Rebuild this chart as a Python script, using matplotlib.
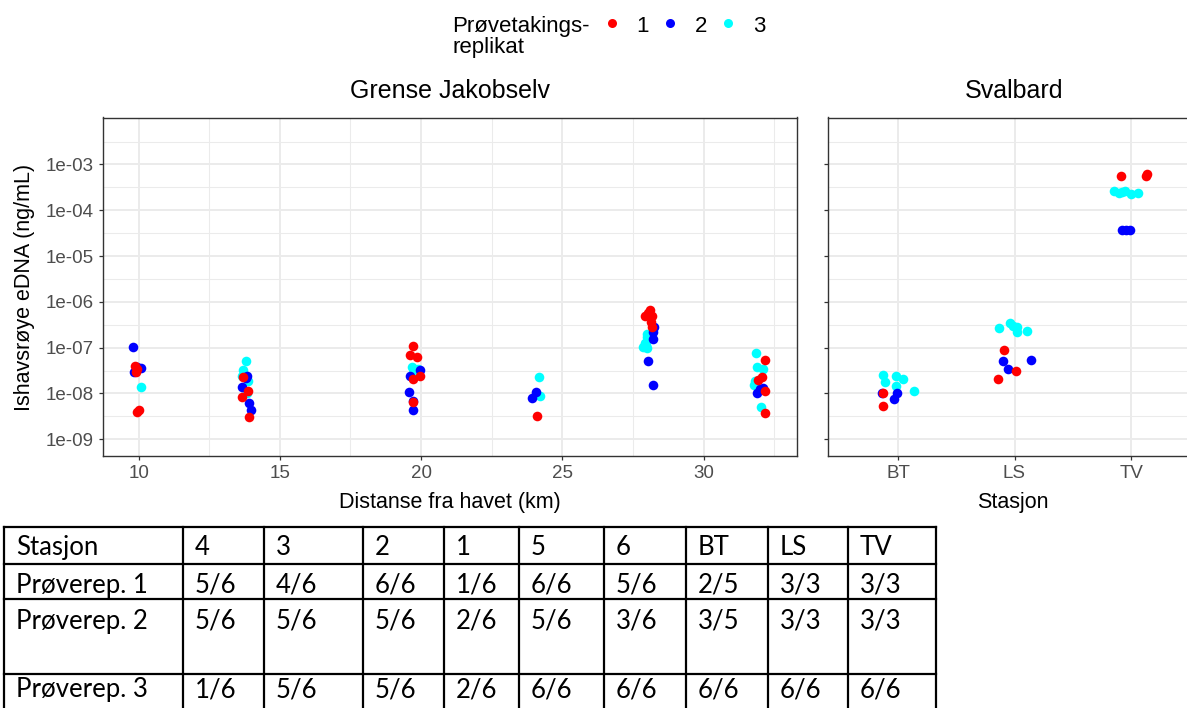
import matplotlib
matplotlib.use("Agg")
import matplotlib.pyplot as plt
from matplotlib.lines import Line2D
from matplotlib.ticker import FixedLocator, NullFormatter

# ---------------- data ----------------
replicates = ["1", "2", "3"]
rep_colors = ["#FF0000", "#0000FF", "#00FFFF"]

# Grense Jakobselv: distance from sea (km, jittered) and eDNA (ng/mL)
gj_km_r1 = [9.88, 9.95, 9.90, 9.94, 10.03,
            13.71, 13.87, 13.65, 13.92,
            19.72, 19.60, 19.86, 19.73, 19.96, 19.73,
            24.12,
            28.11, 27.93, 28.17, 28.13, 28.17, 28.05,
            32.19, 32.08, 31.94, 32.19, 32.17]
gj_val_r1 = [4.0e-8, 3.4e-8, 2.9e-8, 3.9e-9, 4.4e-9,
             2.3e-8, 1.12e-8, 8.2e-9, 3.1e-9,
             1.1e-7, 6.8e-8, 6.2e-8, 2.1e-8, 2.45e-8, 6.6e-9,
             3.3e-9,
             6.5e-7, 5.0e-7, 4.8e-7, 3.7e-7, 2.9e-7, 5.6e-7,
             5.4e-8, 2.24e-8, 1.96e-8, 1.12e-8, 3.7e-9]

gj_km_r2 = [9.81, 10.08, 9.82, 9.90, 9.93,
            13.84, 13.65, 13.91, 13.97, 13.80,
            19.98, 19.61, 19.59, 19.73, 19.72,
            24.08, 23.94,
            28.25, 28.22, 28.04, 28.21, 28.20,
            32.00, 31.88, 32.10]
gj_val_r2 = [1.03e-7, 3.6e-8, 2.9e-8, 3.3e-8, 3.8e-8,
             2.45e-8, 1.4e-8, 6.2e-9, 4.4e-9, 2.2e-8,
             3.2e-8, 2.45e-8, 1.1e-8, 4.4e-9, 6.8e-9,
             1.07e-8, 7.9e-9,
             2.8e-7, 1.56e-7, 5.2e-8, 1.55e-8, 2.2e-7,
             1.23e-8, 1.0e-8, 1.3e-8]

gj_km_r3 = [10.08,
            13.79, 13.71, 13.65, 13.87, 13.83,
            19.67, 19.75, 19.85, 19.70, 19.90,
            24.18, 24.21,
            27.99, 27.93, 27.99, 27.87, 27.95, 28.00,
            31.85, 31.88, 32.12, 31.82, 31.80, 32.04]
gj_val_r3 = [1.4e-8,
             5.0e-8, 3.2e-8, 2.35e-8, 1.9e-8, 1.0e-8,
             3.7e-8, 3.3e-8, 3.0e-8, 2.8e-8, 3.5e-8,
             2.3e-8, 8.9e-9,
             2.0e-7, 1.26e-7, 9.8e-8, 1.02e-7, 1.15e-7, 1.7e-7,
             7.6e-8, 3.7e-8, 3.4e-8, 1.9e-8, 1.55e-8, 5.0e-9]

# Svalbard: station, horizontal jitter, eDNA (ng/mL)
sv_stations = ["BT", "LS", "TV"]
sv_st_r1 = ["BT", "BT", "LS", "LS", "LS", "TV", "TV", "TV"]
sv_jit_r1 = [-0.13, -0.13, -0.09, 0.01, -0.14, -0.09, 0.14, 0.13]
sv_val_r1 = [1.0e-8, 5.4e-9, 8.9e-8, 3.1e-8, 2.1e-8, 5.6e-4, 6.2e-4, 5.5e-4]

sv_st_r2 = ["BT", "BT", "BT", "LS", "LS", "LS", "TV", "TV", "TV"]
sv_jit_r2 = [-0.14, -0.01, -0.03, -0.10, 0.14, -0.06, -0.08, -0.04, -0.01]
sv_val_r2 = [1.05e-8, 1.0e-8, 7.6e-9, 5.2e-8, 5.4e-8, 3.4e-8, 3.7e-5, 3.7e-5, 3.7e-5]

sv_st_r3 = ["BT"] * 6 + ["LS"] * 6 + ["TV"] * 6
sv_jit_r3 = [-0.125, -0.02, 0.04, -0.11, -0.02, 0.14,
             -0.13, -0.04, 0.02, 0.02, 0.11, -0.01,
             -0.15, -0.10, -0.05, 0.0, 0.06, -0.08]
sv_val_r3 = [2.5e-8, 2.35e-8, 2.05e-8, 1.82e-8, 1.49e-8, 1.15e-8,
             2.75e-7, 3.4e-7, 2.9e-7, 2.25e-7, 2.3e-7, 2.95e-7,
             2.7e-4, 2.35e-4, 2.7e-4, 2.3e-4, 2.35e-4, 2.45e-4]

y_breaks = [1e-9, 1e-8, 1e-7, 1e-6, 1e-5, 1e-4, 1e-3]
y_labels = ["1e-09", "1e-08", "1e-07", "1e-06", "1e-05", "1e-04", "1e-03"]
y_minor = [10 ** (-9.5 + k) for k in range(8)]
x_breaks = [10, 15, 20, 25, 30]
x_minor = [7.5, 12.5, 17.5, 22.5, 27.5, 32.5]

# Detection table
table_header = ["Stasjon", "4", "3", "2", "1", "5", "6", "BT", "LS", "TV"]
table_rep1 = ["Prøverep. 1", "5/6", "4/6", "6/6", "1/6", "6/6", "5/6", "2/5", "3/3", "3/3"]
table_rep2 = ["Prøverep. 2", "5/6", "5/6", "5/6", "2/6", "5/6", "3/6", "3/5", "3/3", "3/3"]
table_rep3 = ["Prøverep. 3", "1/6", "5/6", "5/6", "2/6", "6/6", "6/6", "6/6", "6/6", "6/6"]

# ---------------- figure ----------------
plt.rcParams["font.family"] = ["Liberation Sans", "DejaVu Sans"]
W, H = 1187, 708
fig = plt.figure(figsize=(W / 100, H / 100), dpi=100)


def fx(px):
    return px / W


def fy(py):
    return 1 - py / H


top_px, bot_px = 117.5, 456
ax1 = fig.add_axes([fx(103), fy(bot_px), fx(797) - fx(103), (bot_px - top_px) / H])
ax2 = fig.add_axes([fx(828), fy(bot_px), fx(1201) - fx(828), (bot_px - top_px) / H])

ylims = (10 ** -9.365, 10 ** -1.974)
border_col = "#333333"
grid_col = "#EBEBEB"
tick_col = "#4D4D4D"

for ax in (ax1, ax2):
    ax.set_yscale("log")
    ax.set_ylim(*ylims)
    ax.yaxis.set_major_locator(FixedLocator(y_breaks))
    ax.yaxis.set_minor_locator(FixedLocator(y_minor))
    ax.yaxis.set_minor_formatter(NullFormatter())
    ax.grid(True, which="major", color=grid_col, lw=1.4, zorder=0)
    ax.grid(True, which="minor", color=grid_col, lw=0.75, zorder=0)
    ax.set_axisbelow(True)
    for sp in ax.spines.values():
        sp.set_color(border_col)
        sp.set_linewidth(1.0)
    ax.tick_params(which="major", length=2.9, width=0.9, color=border_col,
                   labelsize=13.5, labelcolor=tick_col, pad=3.5)
    ax.tick_params(which="minor", length=0)

ax1.set_yticklabels(y_labels)
ax2.set_yticklabels([])

ax1.set_xlim(8.74, 33.31)
ax1.xaxis.set_major_locator(FixedLocator(x_breaks))
ax1.xaxis.set_minor_locator(FixedLocator(x_minor))
ax1.set_xticklabels([str(v) for v in x_breaks])

ax2.set_xlim(0.4, 3.6)
ax2.set_xticks([1, 2, 3])
ax2.set_xticklabels(sv_stations)
ax2.xaxis.set_minor_locator(FixedLocator([]))

ms = 48
gj_sets = [(gj_km_r1, gj_val_r1), (gj_km_r2, gj_val_r2), (gj_km_r3, gj_val_r3)]
sv_sets = [(sv_st_r1, sv_jit_r1, sv_val_r1), (sv_st_r2, sv_jit_r2, sv_val_r2),
           (sv_st_r3, sv_jit_r3, sv_val_r3)]
for i in [2, 1, 0]:
    xs, ys = gj_sets[i]
    ax1.scatter(xs, ys, s=ms, color=rep_colors[i], linewidths=0, zorder=3 + (2 - i))
    st, jit, vals = sv_sets[i]
    xpos = [sv_stations.index(s) + 1 + j for s, j in zip(st, jit)]
    ax2.scatter(xpos, vals, s=ms, color=rep_colors[i], linewidths=0, zorder=3 + (2 - i))

# strip titles
fig.text(fx(450), fy(98), "Grense Jakobselv", ha="center", va="baseline", fontsize=18)
fig.text(fx(1014.5), fy(98), "Svalbard", ha="center", va="baseline", fontsize=18)

# axis titles
fig.text(fx(450), fy(508), "Distanse fra havet (km)", ha="center", va="baseline", fontsize=15.5)
fig.text(fx(1013), fy(508), "Stasjon", ha="center", va="baseline", fontsize=15.5)
fig.text(fx(25), fy(287), "Ishavsrøye eDNA (ng/mL)", ha="center", va="center",
         rotation=90, fontsize=15.5)

# legend
fig.text(fx(452), fy(32), "Prøvetakings-", ha="left", va="baseline", fontsize=16)
fig.text(fx(452), fy(53), "replikat", ha="left", va="baseline", fontsize=16)
for i, lab in enumerate(replicates):
    mx = 611.7 + i * 58.3
    fig.add_artist(Line2D([fx(mx)], [fy(23.3)], marker="o", markersize=6.5,
                          color=rep_colors[i], markeredgewidth=0, linestyle="none",
                          transform=fig.transFigure))
    fig.text(fx(mx + 24.5), fy(32), lab, ha="left", va="baseline", fontsize=16)

# table
col_px = [4, 183, 264, 363, 444, 519, 604, 686, 768, 848, 936]
row_px = [527, 563.5, 598.5, 673.5, 720]
lw_t = 1.6
for xp in col_px:
    fig.add_artist(Line2D([fx(xp), fx(xp)], [fy(row_px[0]), fy(row_px[-1])],
                          color="black", lw=lw_t, transform=fig.transFigure))
for yp in row_px[:-1]:
    fig.add_artist(Line2D([fx(col_px[0]), fx(col_px[-1])], [fy(yp), fy(yp)],
                          color="black", lw=lw_t, transform=fig.transFigure))
baselines = [555, 592.5, 628.5, 697.5]
tfont = ["Lato", "DejaVu Sans"]
for r, row in enumerate([table_header, table_rep1, table_rep2, table_rep3]):
    for c, txt in enumerate(row):
        fig.text(fx(col_px[c] + 12), fy(baselines[r]), txt, ha="left", va="baseline",
                 fontsize=18.5, family=tfont, color="black")

fig.savefig("out.png", dpi=100)
